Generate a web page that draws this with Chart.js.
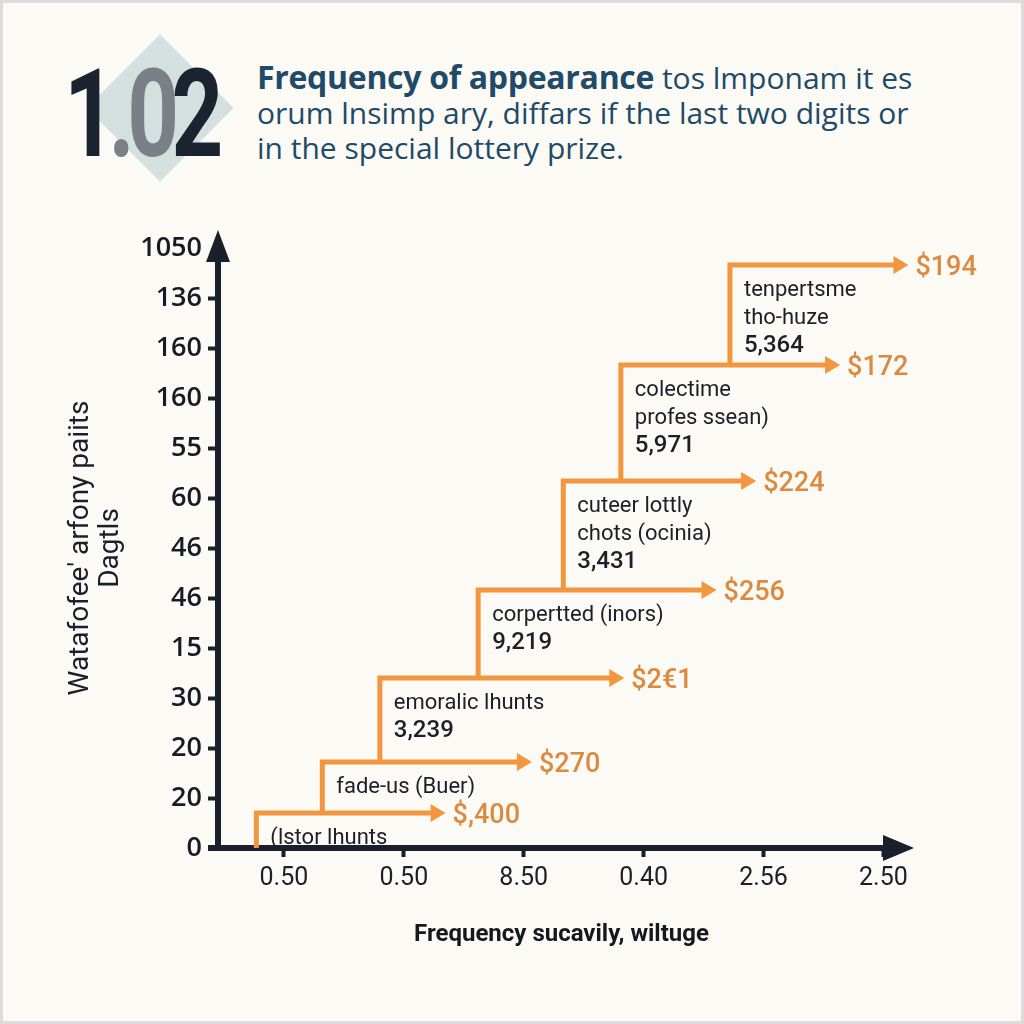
<!DOCTYPE html>
<html>
<head>
<meta charset="utf-8">
<script src="https://cdn.jsdelivr.net/npm/chart.js@4/dist/chart.umd.min.js"></script>
<style>
  html, body { margin: 0; padding: 0; background: #fbfaf5; }
  #wrap { position: relative; width: 1024px; height: 1024px; overflow: hidden; background: #fbfaf5; }
  #frame { position: absolute; left: 0; top: 0; width: 1024px; height: 1024px; box-sizing: border-box; border: 3px solid #dcdcdc; pointer-events: none; }
  #chart { position: absolute; left: 0; top: 0; }
  #diamond { position: absolute; left: 108px; top: 56px; width: 104px; height: 104px; background: #d4dfe0; transform: rotate(45deg); }
  #bignum { position: absolute; left: 64px; top: 40px; font-family: Roboto, sans-serif; font-weight: 700; font-size: 122px; line-height: 150px; letter-spacing: -10px; transform: scaleX(0.74); transform-origin: left top; white-space: nowrap; }
  #bignum .d { color: #1b2230; }
  #bignum .g { color: #7b8087; }
  #title { position: absolute; left: 257px; top: 59px; font-family: "Open Sans", sans-serif; font-size: 30px; line-height: 35px; color: #1f4a68; white-space: nowrap; }
  #title b { font-weight: 700; font-size: 32px; letter-spacing: -0.3px; }
</style>
</head>
<body>
<div id="wrap">
  <div id="diamond"></div>
  <div id="bignum"><span class="d">1</span><span class="g">.0</span><span class="d">2</span></div>
  <div id="title"><b>Frequency of appearance</b> tos lmponam it es<br>orum lnsimp ary, diffars if the last two digits or<br>in the special lottery prize.</div>
  <canvas id="chart" width="1024" height="1024"></canvas>
  <div id="frame"></div>
</div>
<script>
// ---- data ----
const yTickLabels = ['0', '20', '20', '30', '15', '46', '46', '60', '55', '160', '160', '136', '1050'];
const xTickValues = [0.5, 1.5, 2.5, 3.5, 4.5, 5.5];
const xTickLabels = ['0.50', '0.50', '8.50', '0.40', '2.56', '2.50'];
const stepX = [0.27, 0.82, 1.30, 2.12, 2.83, 3.31, 4.22];
const stepY = [0.70, 1.72, 3.40, 5.16, 7.34, 9.66, 11.66];
const arrowEndX = [1.74, 2.46, 3.23, 4.00, 4.33, 5.03, 5.60];
const prizeLabels = ['$,400', '$270', '$2€1', '$256', '$224', '$172', '$194'];
const groupLabels = [
  ['(lstor lhunts'],
  ['fade-us (Buer)'],
  ['emoralic lhunts', '3,239'],
  ['corpertted (inors)', '9,219'],
  ['cuteer lottly', 'chots (ocinia)', '3,431'],
  ['colectime', 'profes ssean)', '5,971'],
  ['tenpertsme', 'tho-huze', '5,364']
];
const xTitle = 'Frequency sucavily, wiltuge';
const yTitle = ["Watafofee' arfony paiits", 'Dagtls'];

// ---- styles ----
const ORANGE = '#f2963f';
const ORANGE_TEXT = '#dc8a40';
const DARK = '#1a1f2c';

const datasets = stepX.map((x, i) => ({
  data: [
    { x: x, y: i === 0 ? 0 : stepY[i - 1] },
    { x: x, y: stepY[i] },
    { x: arrowEndX[i], y: stepY[i] }
  ],
  showLine: true,
  borderColor: ORANGE,
  borderWidth: 5,
  borderJoinStyle: 'miter',
  borderCapStyle: 'butt',
  pointRadius: 0,
  tension: 0,
  fill: false
}));

const decor = {
  id: 'decor',
  afterDatasetsDraw(chart) {
    const { ctx, scales: { x: xs, y: ys } } = chart;
    ctx.save();
    // orange arrowheads
    ctx.fillStyle = ORANGE;
    stepX.forEach((_, i) => {
      const px = xs.getPixelForValue(arrowEndX[i]);
      const py = ys.getPixelForValue(stepY[i]);
      ctx.beginPath();
      ctx.moveTo(px - 2, py - 9);
      ctx.lineTo(px + 13, py);
      ctx.lineTo(px - 2, py + 9);
      ctx.closePath();
      ctx.fill();
    });
    // prize labels
    ctx.font = '500 27px Roboto, sans-serif';
    ctx.fillStyle = ORANGE_TEXT;
    ctx.textAlign = 'left';
    ctx.textBaseline = 'middle';
    prizeLabels.forEach((t, i) => {
      const px = xs.getPixelForValue(arrowEndX[i]);
      const py = ys.getPixelForValue(stepY[i]);
      ctx.fillText(t, px + 20, py + 3);
    });
    // group labels
    ctx.fillStyle = '#1c1f27';
    groupLabels.forEach((lines, i) => {
      const px = xs.getPixelForValue(stepX[i]);
      const py = ys.getPixelForValue(stepY[i]);
      lines.forEach((t, j) => {
        const isNum = /^[0-9,]+$/.test(t);
        ctx.font = (isNum ? '500 24px' : '400 22px') + ' Roboto, sans-serif';
        ctx.fillText(t, px + 14, py + 25 + j * 28);
      });
    });
    ctx.restore();
  },
  afterDraw(chart) {
    const { ctx, chartArea: a } = chart;
    ctx.save();
    ctx.fillStyle = DARK;
    // y axis arrow
    ctx.beginPath();
    ctx.moveTo(a.left, a.top - 18);
    ctx.lineTo(a.left - 12, a.top + 14);
    ctx.lineTo(a.left + 12, a.top + 14);
    ctx.closePath();
    ctx.fill();
    // x axis arrow
    ctx.beginPath();
    ctx.moveTo(a.right + 9, a.bottom);
    ctx.lineTo(a.right - 22, a.bottom - 13);
    ctx.lineTo(a.right - 22, a.bottom + 13);
    ctx.closePath();
    ctx.fill();
    // small extension of x axis left of y axis
    ctx.fillRect(a.left - 10, a.bottom - 3, 10, 6);
    ctx.restore();
  }
};

new Chart(document.getElementById('chart'), {
  type: 'scatter',
  data: { datasets },
  options: {
    responsive: false,
    animation: false,
    events: [],
    layout: { padding: { left: 0, top: 248, right: 119, bottom: 40 } },
    plugins: { legend: { display: false }, tooltip: { enabled: false } },
    scales: {
      x: {
        type: 'linear',
        min: -0.05,
        max: 5.68,
        afterBuildTicks(scale) { scale.ticks = xTickValues.map(v => ({ value: v })); },
        afterFit(scale) { scale.height = 136; },
        ticks: {
          callback: (v, i) => xTickLabels[i],
          font: { family: 'Roboto', size: 25 },
          color: '#1b1f2a',
          padding: 7,
          maxRotation: 0,
          autoSkip: false
        },
        grid: { drawOnChartArea: false, drawTicks: true, tickLength: 9, tickWidth: 4, tickColor: DARK },
        border: { display: true, color: DARK, width: 6 },
        title: {
          display: true,
          text: xTitle,
          font: { family: 'Roboto', size: 24, weight: '700' },
          color: '#15181f',
          padding: { top: 0, bottom: 35 }
        }
      },
      y: {
        min: 0,
        max: 12,
        afterFit(scale) { scale.width = 218; },
        ticks: {
          stepSize: 1,
          callback: (v) => yTickLabels[v],
          font: { family: 'Open Sans', size: 27, weight: '600' },
          color: '#171b26',
          padding: 6,
          autoSkip: false
        },
        grid: {
          drawOnChartArea: false,
          drawTicks: true,
          tickLength: 10,
          tickWidth: 4,
          tickColor: (c) => (c.index === 12 ? 'rgba(0,0,0,0)' : DARK)
        },
        border: { display: true, color: DARK, width: 6 },
        title: {
          display: true,
          text: yTitle,
          font: { family: 'Roboto', size: 28, lineHeight: 1.08 },
          color: '#1b1f2a',
          padding: { top: 66, bottom: 0 }
        }
      }
    }
  },
  plugins: [decor]
});
</script>
</body>
</html>
